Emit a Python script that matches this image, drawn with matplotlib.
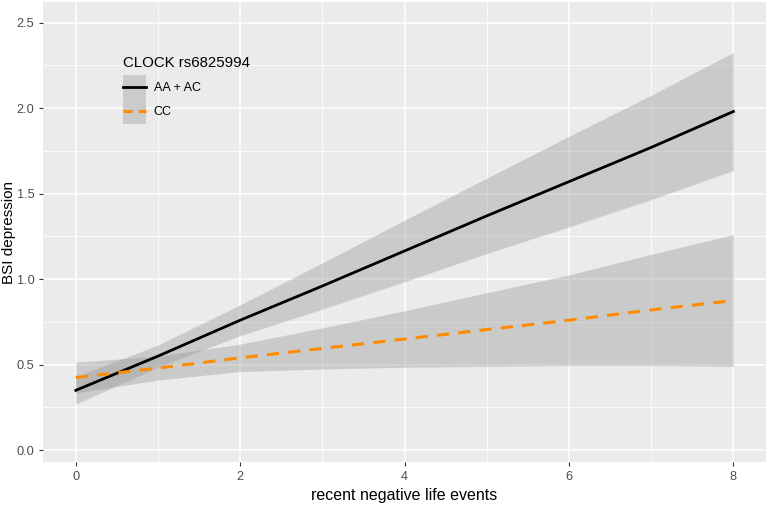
import matplotlib
matplotlib.use("Agg")
import matplotlib.pyplot as plt
from matplotlib.patches import Patch
from matplotlib.lines import Line2D
from matplotlib.legend_handler import HandlerLine2D
from matplotlib.ticker import MultipleLocator

plt.rcParams['font.family'] = ['Liberation Sans', 'DejaVu Sans']

# fitted values
events = [0, 1, 2, 3, 4, 5, 6, 7, 8]
aa_fit = [0.35, 0.55, 0.76, 0.96, 1.165, 1.37, 1.57, 1.77, 1.98]
aa_upper = [0.43, 0.615, 0.85, 1.095, 1.345, 1.59, 1.835, 2.075, 2.325]
aa_lower = [0.27, 0.485, 0.67, 0.825, 0.985, 1.15, 1.305, 1.465, 1.635]
cc_fit = [0.425, 0.48, 0.54, 0.595, 0.65, 0.705, 0.76, 0.82, 0.875]
cc_upper = [0.515, 0.55, 0.62, 0.715, 0.815, 0.92, 1.025, 1.145, 1.26]
cc_lower = [0.335, 0.41, 0.46, 0.475, 0.485, 0.49, 0.495, 0.495, 0.49]


class CenteredLine(HandlerLine2D):
    # keep the key line in the middle of the grey key box
    def create_artists(self, legend, orig_handle, xdescent, ydescent,
                       width, height, fontsize, trans):
        arts = super().create_artists(legend, orig_handle, xdescent, ydescent,
                                      width, height, fontsize, trans)
        for a in arts:
            a.set_ydata([height / 2 - ydescent] * len(a.get_xdata()))
        return arts


fig = plt.figure(figsize=(7.67, 5.09), dpi=100)
ax = fig.add_axes([0.056, 0.092, 0.943, 0.904])
ax.set_facecolor('#EBEBEB')
for s in ax.spines.values():
    s.set_visible(False)

ax.xaxis.set_major_locator(MultipleLocator(2))
ax.xaxis.set_minor_locator(MultipleLocator(1))
ax.yaxis.set_major_locator(MultipleLocator(0.5))
ax.yaxis.set_minor_locator(MultipleLocator(0.25))
ax.grid(which='major', color='white', lw=1.1)
ax.grid(which='minor', color='white', lw=0.55)
ax.set_axisbelow(True)
ax.tick_params(which='minor', length=0)
ax.tick_params(which='major', length=3, color='#333333', labelcolor='#4D4D4D',
               labelsize=9.2, pad=3)

band_col = '#999999'
ax.fill_between(events, aa_lower, aa_upper, color=band_col, alpha=0.4, lw=0)
ax.fill_between(events, cc_lower, cc_upper, color=band_col, alpha=0.4, lw=0)
ax.plot(events, aa_fit, color='black', lw=2)
ax.plot(events, cc_fit, color='#FF8C00', lw=2.2, ls=(0, (4, 3)))

ax.set_xlim(-0.4, 8.4)
ax.set_ylim(-0.07, 2.62)
ax.set_xticks([0, 2, 4, 6, 8])
ax.set_yticks([0.0, 0.5, 1.0, 1.5, 2.0, 2.5])
ax.set_yticklabels(['0.0', '0.5', '1.0', '1.5', '2.0', '2.5'])
ax.set_xlabel('recent negative life events', fontsize=11.5, labelpad=4)
ax.set_ylabel('BSI depression', fontsize=11)
ax.yaxis.set_label_coords(-0.037, 0.5)

key_line1 = Line2D([], [], color='black', lw=2)
key_line2 = Line2D([], [], color='#FF8C00', lw=2.2, ls=(0, (3, 2)))
h1 = (Patch(facecolor='#CBCBCB', edgecolor='none'), key_line1)
h2 = (Patch(facecolor='#CBCBCB', edgecolor='none'), key_line2)
leg = ax.legend([h1, h2], ['AA + AC', 'CC'], title='CLOCK rs6825994',
                loc='upper left', bbox_to_anchor=(0.095, 0.908), frameon=False,
                fontsize=9, title_fontsize=10.8, handlelength=1.85, handleheight=2.6,
                labelspacing=0.0, handletextpad=0.6,
                handler_map={Line2D: CenteredLine()})
leg._legend_box.align = 'left'
leg._legend_box.sep = 4

fig.savefig('out.png', dpi=100)
